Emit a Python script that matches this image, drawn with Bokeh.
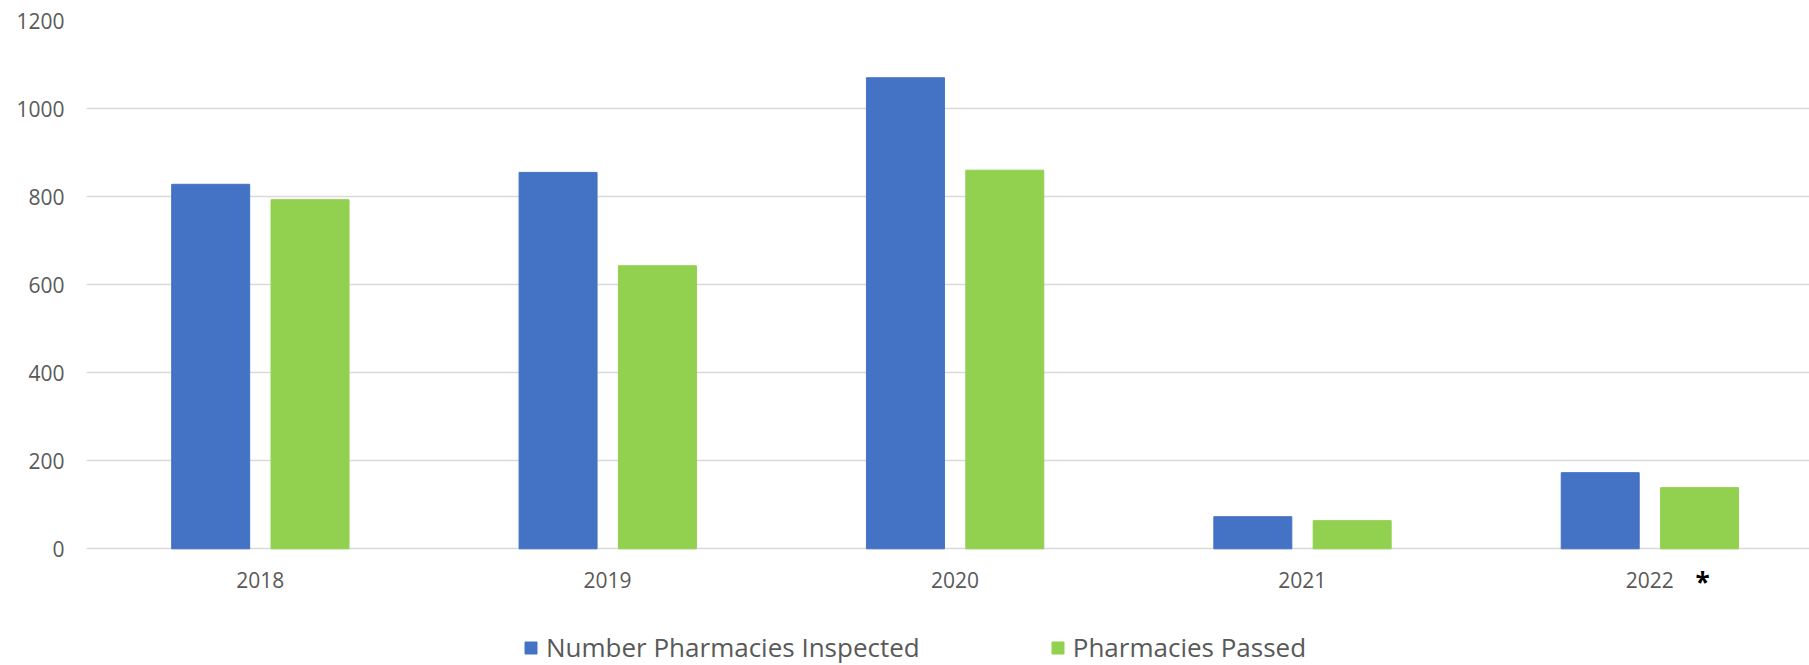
from bokeh.plotting import figure
from bokeh.models import Range1d, FixedTicker, Legend, LegendItem, Label, ColumnDataSource
from bokeh.transform import dodge
from bokeh.embed import file_html
from bokeh.resources import INLINE

years = ["2018", "2019", "2020", "2021", "2022"]
inspected = [828, 855, 1070, 73, 173]
passed = [793, 643, 860, 64, 139]
y_ticks = [0, 200, 400, 600, 800, 1000, 1200]

BLUE = "#4472C4"
GREEN = "#92D050"
TEXT = "#595959"

pos = [i + 0.5 for i in range(len(years))]
src = ColumnDataSource(dict(x=pos, inspected=inspected, passed=passed))

# frame runs to the bottom of the page so that the legend and note are not clipped;
# the value axis still starts at 0 (ticks / grid only from 0 to 1200)
p = figure(width=1809, height=665, output_backend="svg", toolbar_location=None,
           x_range=Range1d(0, 4.96), y_range=Range1d(-265, 1200),
           min_border_left=86, min_border_right=0, min_border_top=20,
           min_border_bottom=0, outline_line_color=None)

r1 = p.vbar(x=dodge("x", -0.1425, range=p.x_range), top="inspected", bottom=0, width=0.2245,
            source=src, fill_color=BLUE, line_color=BLUE)
r2 = p.vbar(x=dodge("x", 0.1435, range=p.x_range), top="passed", bottom=0, width=0.2245,
            source=src, fill_color=GREEN, line_color=GREEN)

p.xgrid.grid_line_color = None
p.ygrid.grid_line_color = "#d9d9d9"
p.ygrid.grid_line_width = 1.5
p.ygrid.level = "underlay"

p.yaxis.ticker = FixedTicker(ticks=y_ticks)
p.xaxis.ticker = FixedTicker(ticks=pos)
p.xaxis.major_label_overrides = {x: y for x, y in zip(pos, years)}
p.xaxis.fixed_location = 0

for ax in (p.xaxis, p.yaxis):
    ax.axis_line_color = None
    ax.major_tick_line_color = None
    ax.minor_tick_line_color = None
    ax.major_tick_out = 0
    ax.major_tick_in = 0
    ax.major_label_text_font = "Open Sans"
    ax.major_label_text_font_size = "21px"
    ax.major_label_text_color = TEXT
p.xaxis.major_label_standoff = 23
p.yaxis.major_label_standoff = 22

legend = Legend(items=[LegendItem(label="Number Pharmacies Inspected", renderers=[r1]),
                       LegendItem(label="Pharmacies Passed", renderers=[r2])],
                orientation="horizontal", location=(437, 0),
                glyph_width=15, glyph_height=15, label_standoff=8, spacing=130,
                padding=0, margin=0, border_line_color=None, background_fill_alpha=0,
                label_text_font="Open Sans", label_text_font_size="26px",
                label_text_color=TEXT)
p.add_layout(legend)

note = Label(x=pos[-1], y=0, x_offset=53, y_offset=-33, text="*",
             text_font="Open Sans", text_font_style="bold", text_font_size="26px",
             text_color="black", text_align="center", text_baseline="alphabetic")
p.add_layout(note)

open("out.html", "w").write(file_html(p, INLINE))
